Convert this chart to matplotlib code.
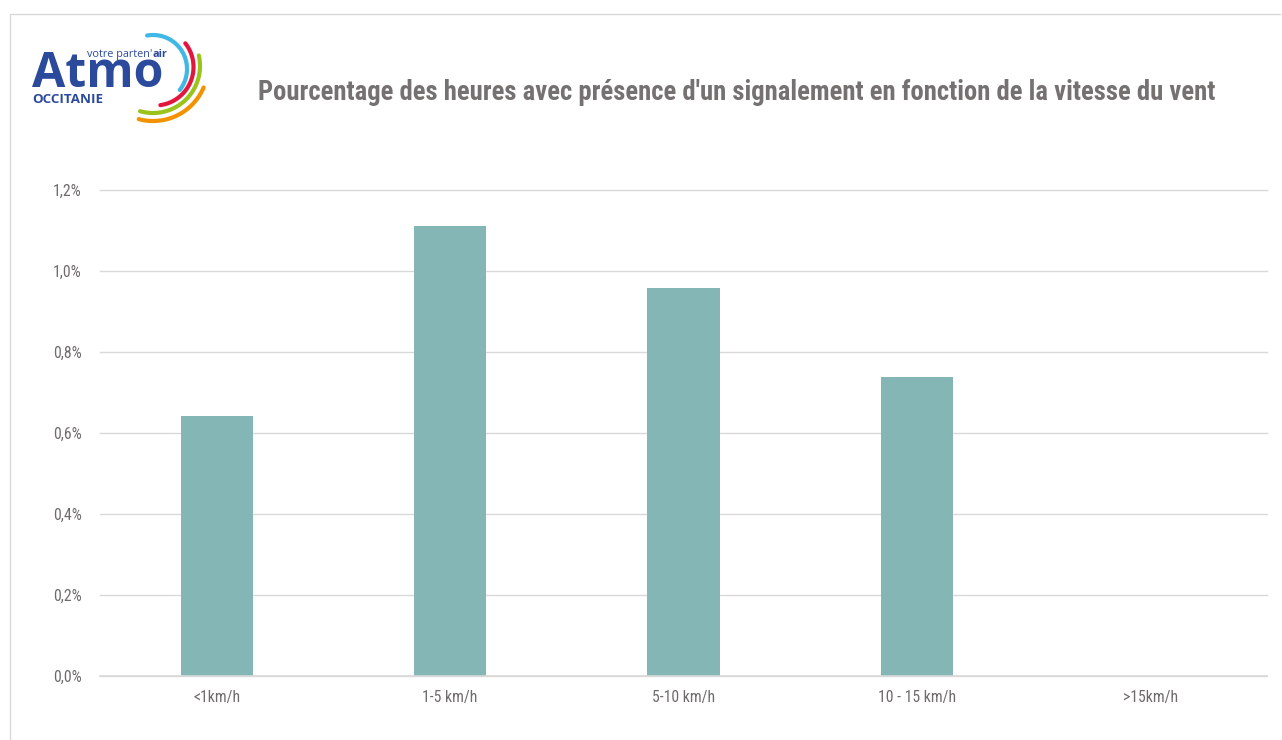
import numpy as np
import matplotlib
matplotlib.use("Agg")
import matplotlib.pyplot as plt
from matplotlib import font_manager
from matplotlib.ticker import FuncFormatter

categories = ["<1km/h", "1-5 km/h", "5-10 km/h", "10 - 15 km/h", ">15km/h"]
values = [0.642, 1.110, 0.957, 0.738, 0.0]
yticks = [0.0, 0.2, 0.4, 0.6, 0.8, 1.0, 1.2]
title = "Pourcentage des heures avec présence d'un signalement en fonction de la vitesse du vent"

names = sorted({f.name for f in font_manager.fontManager.ttflist})
narrow_name = None
for cand in ["Liberation Sans Narrow", "Arial Narrow", "Roboto Condensed",
             "Open Sans Condensed", "DejaVu Sans Condensed"]:
    if cand in names:
        narrow_name = cand
        break
if narrow_name is None:
    for n in names:
        if "Narrow" in n or "Condensed" in n:
            narrow_name = n
            break
if narrow_name is None:
    narrow_name = "Liberation Sans"
NARROW = [narrow_name, "DejaVu Sans"]

W, H = 1282, 740
fig = plt.figure(figsize=(W / 100, H / 100), dpi=100)
renderer = fig.canvas.get_renderer()

def fit_size(txt, target_px, base=12, **kw):
    t = fig.text(0, 0, txt, fontsize=base, **kw)
    w = t.get_window_extent(renderer).width
    t.remove()
    return base * target_px / w

# background / decoration axes in pixel coords
bg = fig.add_axes([0, 0, 1, 1])
bg.set_xlim(0, W)
bg.set_ylim(H, 0)
bg.axis("off")
bg.plot([10, 10, 1280], [H, 14, 14], color="#d9d9d9", lw=1.0)

# logo arcs
def arc(cx, cy, r, a1, a2, color):
    t = np.radians(np.linspace(a1, a2, 80))
    bg.plot(cx + r * np.cos(t), cy - r * np.sin(t), color=color, lw=3.0,
            solid_capstyle="round")

arc(153, 69, 34, 100, -38, "#3fb8e6")
arc(155, 67, 38.5, 38, -82, "#e3173e")
arc(153, 66, 47, 13, -106, "#9bc31c")
arc(153, 66, 55, -23, -105, "#f39200")

blue = "#2b4a9c"
LOGO = ["Open Sans", "DejaVu Sans"]
s_atmo = fit_size("Atmo", 131, family=LOGO, fontweight="bold")
bg.text(32, 87, "Atmo", fontsize=s_atmo, fontweight="bold", color=blue,
        family=LOGO, ha="left", va="baseline")
s_v = fit_size("votre parten'air", 78, family=LOGO)
t1 = bg.text(87, 57, "votre parten'", fontsize=s_v, color=blue,
             family=LOGO, ha="left", va="baseline")
w1 = t1.get_window_extent(renderer).width
bg.text(87 + w1, 57, "air", fontsize=s_v, color=blue, fontweight="bold",
        family=LOGO, ha="left", va="baseline")
s_o = fit_size("OCCITANIE", 71, family=LOGO, fontweight="bold")
bg.text(32, 103, "OCCITANIE", fontsize=s_o, color=blue, fontweight="bold",
        family=LOGO, ha="left", va="baseline")

s_title = fit_size(title, 959, family=NARROW, fontweight="bold")
bg.text(737, 100, title, fontsize=s_title, fontweight="bold", color="#767171",
        family=NARROW, ha="center", va="baseline")

# main axes
left, right = 100 / W, 1267 / W
bottom, top = (H - 676) / H, (H - 190) / H
ax = fig.add_axes([left, bottom, right - left, top - bottom])
x = np.arange(len(categories))
ax.bar(x, values, width=0.31, color="#84b6b6", zorder=3)
ax.set_xlim(-0.5, len(categories) - 0.5)
ax.set_ylim(0, 1.2)
ax.set_yticks(yticks)
ax.yaxis.set_major_formatter(FuncFormatter(lambda v, p: f"{v:.1f}%".replace(".", ",")))
ax.set_xticks(x)
ax.set_xticklabels(categories)
for s in ["top", "right", "left"]:
    ax.spines[s].set_visible(False)
ax.spines["bottom"].set_color("#d9d9d9")
ax.spines["bottom"].set_linewidth(1.2)
ax.spines["bottom"].set_zorder(4)
ax.grid(axis="y", color="#d9d9d9", lw=1.0, zorder=0)
for gl in ax.get_ygridlines():
    gl.set_clip_on(False)
s_tick = fit_size("<1km/h", 47, family=NARROW)
ax.tick_params(axis="both", length=0, colors="#6f6b6b", labelsize=s_tick)
ax.tick_params(axis="y", pad=13)
ax.tick_params(axis="x", pad=10)
for lab in ax.get_xticklabels() + ax.get_yticklabels():
    lab.set_family(NARROW)
ax.set_facecolor("none")

fig.savefig("out.png", dpi=100)
